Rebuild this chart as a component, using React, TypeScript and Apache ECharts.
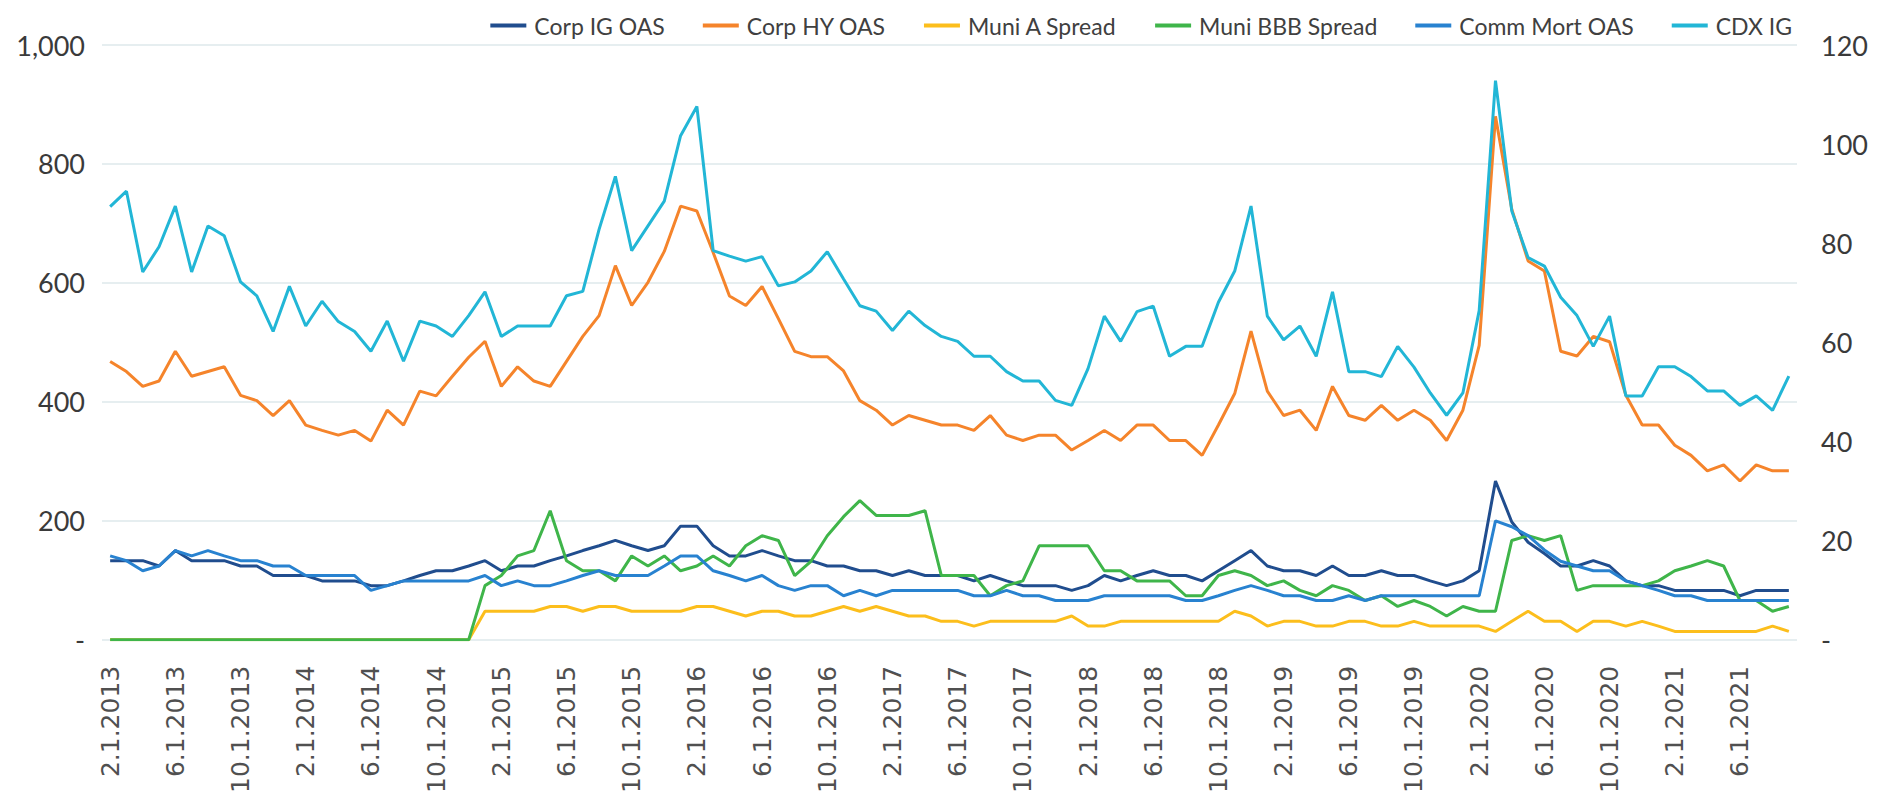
import React, { useEffect, useRef } from "react";
import * as echarts from "echarts";

// Monthly, Feb 2013 .. Sep 2021
const START_YEAR = 2013;
const START_MONTH = 2;
const N_POINTS = 104;
const categories: string[] = [];
for (let i = 0; i < N_POINTS; i++) {
  const m0 = START_MONTH - 1 + i;
  const y = START_YEAR + Math.floor(m0 / 12);
  const m = (m0 % 12) + 1;
  categories.push(`${m}.1.${y}`);
}

const leftTicks = [0, 200, 400, 600, 800, 1000];
const rightTicks = [0, 20, 40, 60, 80, 100, 120];

const corpIG = [
  133, 133, 133, 124, 150, 133, 133, 133, 124, 124,
  108, 108, 108, 99, 99, 99, 91, 91, 99, 108,
  116, 116, 124, 133, 116, 124, 124, 133, 141, 150,
  158, 167, 158, 150, 158, 191, 191, 158, 141, 141,
  150, 141, 133, 133, 124, 124, 116, 116, 108, 116,
  108, 108, 108, 99, 108, 99, 91, 91, 91, 83,
  91, 108, 99, 108, 116, 108, 108, 99, 116, 133,
  150, 124, 116, 116, 108, 124, 108, 108, 116, 108,
  108, 99, 91, 99, 116, 267, 198, 164, 145, 124,
  124, 133, 124, 99, 91, 91, 83, 83, 83, 83,
  74, 83, 83, 83,
];

const corpHY = [
  468, 451, 426, 435, 485, 443, 451, 459, 411, 402,
  377, 402, 361, 352, 344, 352, 334, 386, 361, 418,
  410, 443, 475, 502, 426, 459, 435, 426, 468, 510,
  545, 629, 562, 601, 653, 729, 721, 651, 578, 562,
  594, 540, 485, 476, 476, 452, 402, 386, 361, 377,
  369, 361, 361, 352, 377, 344, 335, 344, 344, 319,
  335, 352, 335, 361, 361, 335, 335, 310, 361, 414,
  519, 418, 377, 386, 352, 426, 377, 369, 394, 369,
  386, 369, 335, 386, 495, 880, 724, 637, 620, 485,
  477, 510, 501, 411, 361, 361, 327, 310, 284, 294,
  267, 294, 284, 284,
];

const muniA = [
  0, 0, 0, 0, 0, 0, 0, 0, 0, 0,
  0, 0, 0, 0, 0, 0, 0, 0, 0, 0,
  0, 0, 0, 48, 48, 48, 48, 56, 56, 48,
  56, 56, 48, 48, 48, 48, 56, 56, 48, 40,
  48, 48, 40, 40, 48, 56, 48, 56, 48, 40,
  40, 31, 31, 23, 31, 31, 31, 31, 31, 40,
  23, 23, 31, 31, 31, 31, 31, 31, 31, 48,
  40, 23, 31, 31, 23, 23, 31, 31, 23, 23,
  31, 23, 23, 23, 23, 14, 31, 48, 31, 31,
  14, 31, 31, 23, 31, 23, 14, 14, 14, 14,
  14, 14, 23, 14,
];

const muniBBB = [
  0, 0, 0, 0, 0, 0, 0, 0, 0, 0,
  0, 0, 0, 0, 0, 0, 0, 0, 0, 0,
  0, 0, 0, 91, 108, 141, 150, 217, 133, 116,
  116, 99, 141, 124, 141, 116, 124, 141, 124, 158,
  175, 167, 108, 132, 175, 207, 234, 209, 209, 209,
  217, 108, 108, 108, 74, 91, 99, 158, 158, 158,
  158, 116, 116, 99, 99, 99, 74, 74, 108, 116,
  108, 91, 99, 83, 74, 91, 83, 66, 74, 56,
  66, 56, 40, 56, 48, 48, 167, 175, 167, 175,
  83, 91, 91, 91, 91, 99, 116, 124, 133, 124,
  66, 66, 48, 56,
];

const commMort = [
  141, 133, 116, 124, 150, 141, 150, 141, 133, 133,
  124, 124, 108, 108, 108, 108, 83, 91, 99, 99,
  99, 99, 99, 108, 91, 99, 91, 91, 99, 108,
  116, 108, 108, 108, 124, 141, 141, 116, 108, 99,
  108, 91, 83, 91, 91, 74, 83, 74, 83, 83,
  83, 83, 83, 74, 74, 83, 74, 74, 66, 66,
  66, 74, 74, 74, 74, 74, 66, 66, 74, 83,
  91, 83, 74, 74, 66, 66, 74, 66, 74, 74,
  74, 74, 74, 74, 74, 200, 190, 175, 151, 132,
  124, 116, 116, 99, 91, 83, 74, 74, 66, 66,
  66, 66, 66, 66,
];

const cdxIG = [
  87.4, 90.5, 74.2, 79.3, 87.5, 74.2, 83.5, 81.5, 72.2, 69.4,
  62.2, 71.3, 63.3, 68.3, 64.2, 62.2, 58.2, 64.3, 56.2, 64.3,
  63.3, 61.2, 65.4, 70.2, 61.2, 63.3, 63.3, 63.3, 69.4, 70.3,
  82.8, 93.5, 78.5, 83.5, 88.5, 101.7, 107.6, 78.5, 77.4, 76.4,
  77.3, 71.4, 72.2, 74.4, 78.3, 72.8, 67.4, 66.3, 62.4, 66.3,
  63.4, 61.2, 60.2, 57.2, 57.2, 54.1, 52.2, 52.2, 48.3, 47.3,
  54.7, 65.3, 60.2, 66.2, 67.3, 57.2, 59.2, 59.2, 68.1, 74.4,
  87.5, 65.3, 60.5, 63.3, 57.2, 70.2, 54.1, 54.1, 53.1, 59.2,
  55.0, 49.8, 45.3, 49.8, 66.4, 112.8, 86.5, 77.1, 75.4, 69.1,
  65.4, 59.2, 65.3, 49.2, 49.2, 55.1, 55.1, 53.1, 50.2, 50.2,
  47.3, 49.2, 46.3, 53.2,
];

const seriesNames = [
  "Corp IG OAS",
  "Corp HY OAS",
  "Muni A Spread",
  "Muni BBB Spread",
  "Comm Mort OAS",
  "CDX IG",
];
const seriesColors = ["#204d8e", "#f5842b", "#fcbe1c", "#3fb54a", "#2882d0", "#22b6d6"];
const seriesData = [corpIG, corpHY, muniA, muniBBB, commMort, cdxIG];
const seriesAxis = [0, 0, 0, 0, 0, 1];

const fmt = (v: number) => (v === 0 ? "-" : v.toLocaleString("en-US"));

export default function App() {
  const ref = useRef<HTMLDivElement>(null);
  useEffect(() => {
    if (!ref.current) return;
    const chart = echarts.init(ref.current, undefined, { renderer: "svg" });
    chart.setOption({
      animation: false,
      backgroundColor: "#ffffff",
      legend: {
        right: 97,
        top: 9,
        icon: "rect",
        itemWidth: 36,
        itemHeight: 4,
        itemGap: 38,
        textStyle: {
          fontFamily: "Lato",
          fontSize: 23,
          color: "#404040",
          padding: [0, 0, 0, 3],
        },
        data: seriesNames,
      },
      grid: { left: 102, right: 97, top: 45, bottom: 154 },
      xAxis: {
        type: "category",
        data: categories,
        boundaryGap: true,
        axisLine: { show: false },
        axisTick: { show: false },
        axisLabel: {
          interval: 3,
          rotate: 90,
          margin: 26,
          fontFamily: "DejaVu Sans",
          fontSize: 25,
          color: "#505050",
        },
        splitLine: { show: false },
      },
      yAxis: [
        {
          type: "value",
          min: leftTicks[0],
          max: leftTicks[leftTicks.length - 1],
          interval: leftTicks[1] - leftTicks[0],
          axisLine: { show: false },
          axisTick: { show: false },
          axisLabel: {
            formatter: fmt,
            margin: 17,
            fontFamily: "Lato",
            fontSize: 27,
            color: "#3a3a3a",
          },
          splitLine: { show: true, lineStyle: { color: "#e6eef0", width: 2 } },
        },
        {
          type: "value",
          min: rightTicks[0],
          max: rightTicks[rightTicks.length - 1],
          interval: rightTicks[1] - rightTicks[0],
          position: "right",
          axisLine: { show: false },
          axisTick: { show: false },
          axisLabel: {
            formatter: fmt,
            margin: 24,
            fontFamily: "Lato",
            fontSize: 27,
            color: "#3a3a3a",
          },
          splitLine: { show: false },
        },
      ],
      series: seriesNames.map((name, k) => ({
        name,
        type: "line",
        yAxisIndex: seriesAxis[k],
        data: seriesData[k],
        symbol: "none",
        color: seriesColors[k],
        lineStyle: { width: 3, color: seriesColors[k] },
        z: 2 + k,
      })),
    });
    return () => chart.dispose();
  }, []);
  return (
    <div
      ref={ref}
      style={{ position: "absolute", left: 0, top: 0, width: 1894, height: 796 }}
    />
  );
}
